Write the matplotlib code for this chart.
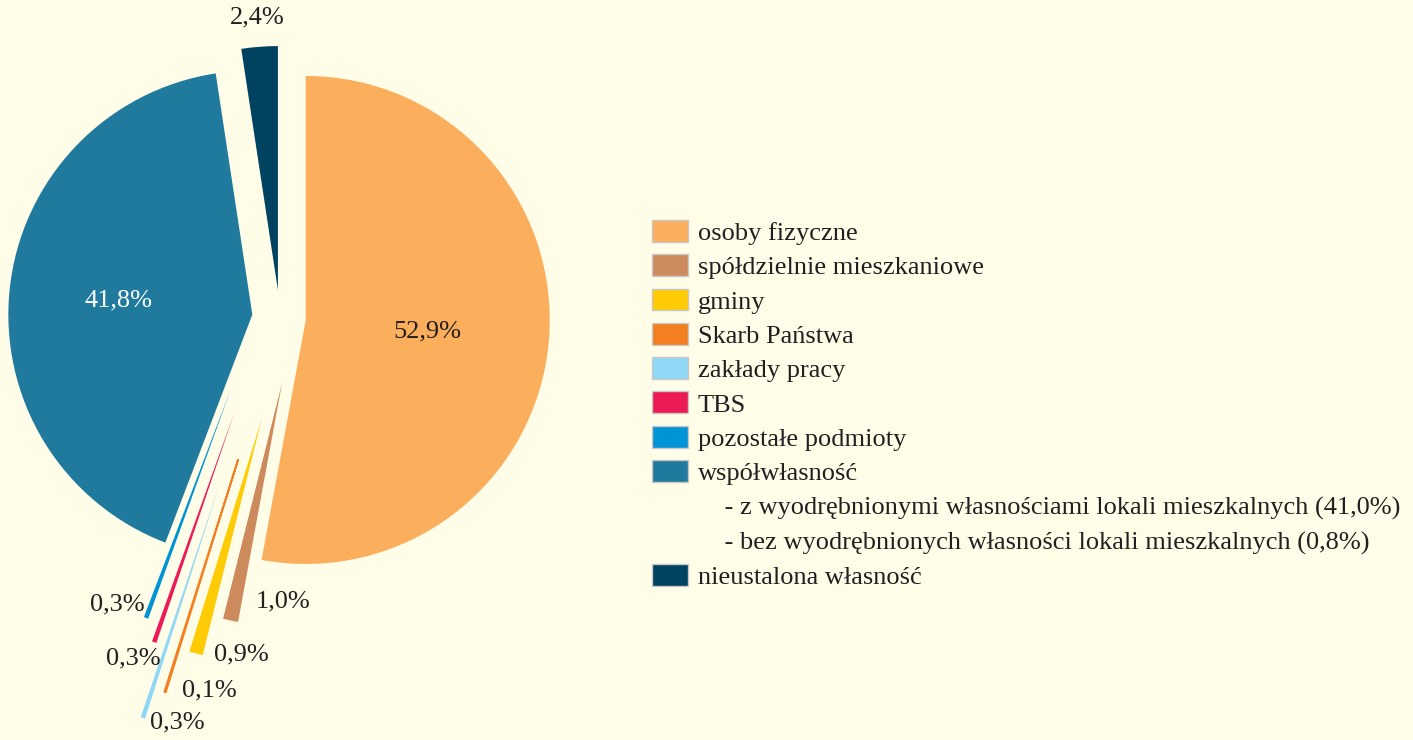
import numpy as np
import matplotlib
matplotlib.use("Agg")
import matplotlib.pyplot as plt
from matplotlib.patches import Rectangle

# data
categories = ["osoby fizyczne", "spółdzielnie mieszkaniowe", "gminy", "Skarb Państwa",
              "zakłady pracy", "TBS", "pozostałe podmioty", "współwłasność",
              "nieustalona własność"]
shares = [52.9, 1.0, 0.9, 0.1, 0.3, 0.3, 0.3, 41.8, 2.4]
sub_labels = ["- z wyodrębnionymi własnościami lokali mieszkalnych",
              "- bez wyodrębnionych własności lokali mieszkalnych"]
sub_shares = [41.0, 0.8]

# style
colors = ["#FBAE5C", "#CD8B5D", "#FFCB05", "#F47F20", "#8FD7F7",
          "#EC1A55", "#0093D5", "#1F7A9E", "#004360"]
explode = [0.106, 0.256, 0.418, 0.605, 0.734, 0.426, 0.345, 0.114, 0.113]
spread = [0, 0.065, 0.040, 0.011, -0.022, -0.048, -0.087, 0, 0]  # sideways shift
outline = [0, 0, 0, 1.3, 0, 0, 0, 0, 0]  # thicken the tiniest slice
bg = "#FFFDE8"
txt = "#231F20"
font = "Liberation Serif"
fs = 19

W, H = 1413, 740
PX = 244.0          # pixels per pie radius
cx, cy = 280.0, 317.6  # pie centre in pixels (from top-left)

fig = plt.figure(figsize=(W / 100, H / 100), dpi=100, facecolor=bg)
ax = fig.add_axes([0, 0, 1, 1])
ax.set_facecolor(bg)

wedges, _ = ax.pie(shares, colors=colors, explode=explode, startangle=90,
                   counterclock=False, radius=1.0,
                   wedgeprops=dict(linewidth=0))
ax.set_aspect("auto")
ax.set_xlim(-cx / PX, (W - cx) / PX)
ax.set_ylim(-(H - cy) / PX, cy / PX)
ax.axis("off")

# fan the thin slices out sideways a little
for w, s, lw, c in zip(wedges, spread, outline, colors):
    mid = np.deg2rad((w.theta1 + w.theta2) / 2)
    x0, y0 = w.center
    w.set_center((x0 - s * np.sin(mid), y0 + s * np.cos(mid)))
    if lw:
        w.set_edgecolor(c)
        w.set_linewidth(lw)


def pct(v):
    return f"{v:.1f}".replace(".", ",") + "%"


# label placement: big slices inside/along the middle angle, small ones at outer tip
inner_dist = {0: 0.50, 7: 0.55, 8: 1.12}
tip_offsets = {1: (38, 14), 2: (33, -1), 3: (32, 1), 4: (25, -3),
               5: (-15, -11.5), 6: (-21, 9.5)}

for i, w in enumerate(wedges):
    mid = np.deg2rad((w.theta1 + w.theta2) / 2)
    x0, y0 = w.center
    if i in inner_dist:
        d = inner_dist[i]
        ax.text(x0 + d * np.cos(mid), y0 + d * np.sin(mid), pct(shares[i]),
                ha="center", va="center", fontsize=fs, family=font,
                color="white" if i == 7 else txt)
    else:
        tx, ty = x0 + w.r * np.cos(mid), y0 + w.r * np.sin(mid)
        ax.annotate(pct(shares[i]), (tx, ty), xytext=tip_offsets[i],
                    textcoords="offset points", ha="center", va="center",
                    fontsize=fs, family=font, color=txt)

# legend
handles = [Rectangle((0, 0), 1, 1, fc=c, ec="#C8C8C8", lw=1) for c in colors]
labels = list(categories)
blank = Rectangle((0, 0), 1, 1, fc="none", ec="none")
extra_h = [blank, blank]
extra_l = ["    " + s + " (" + pct(v) + ")" for s, v in zip(sub_labels, sub_shares)]
handles = handles[:8] + extra_h + handles[8:]
labels = labels[:8] + extra_l + labels[8:]

leg = fig.legend(handles, labels, loc="upper left",
                 bbox_to_anchor=(652 / W, 1 - 220 / H), frameon=False,
                 prop={"family": font, "size": fs}, handlelength=1.36,
                 handleheight=0.9, handletextpad=0.38, labelspacing=0.35,
                 borderpad=0, borderaxespad=0)
for t in leg.get_texts():
    t.set_color(txt)

fig.savefig("out.png", dpi=100, facecolor=bg)
